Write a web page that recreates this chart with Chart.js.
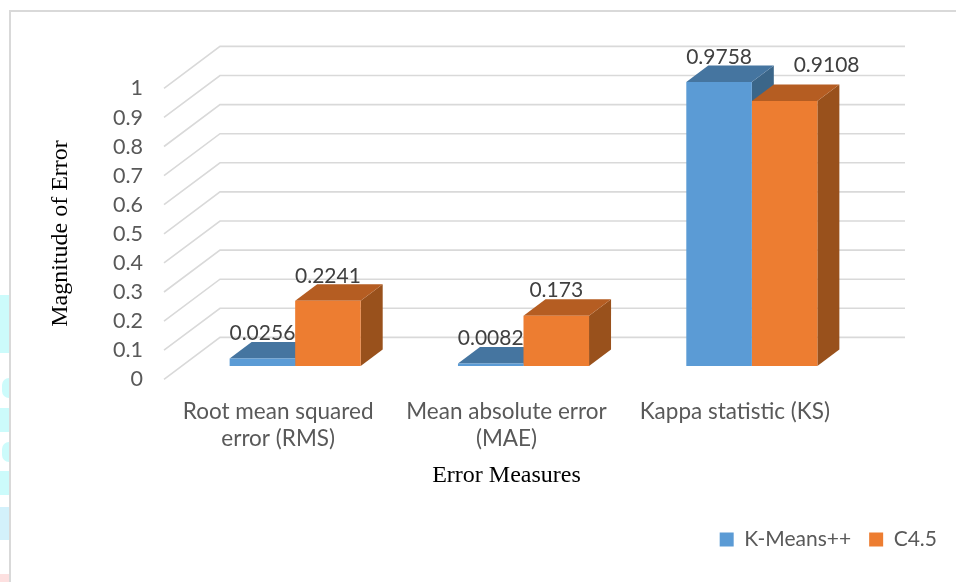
<!DOCTYPE html>
<html lang="en">
<head>
  <meta charset="UTF-8" />
  <title>Error Measures</title>
  <script src="https://cdn.jsdelivr.net/npm/chart.js"></script>
  <style>
    body {
      background-color: white;
      margin: 0;
      padding: 0;
      overflow: hidden;
    }

    .frame {
      position: absolute;
      left: 9px;
      top: 10px;
      right: 0;
      bottom: 0;
      border-left: 2px solid #d9d9d9;
      border-top: 2px solid #d9d9d9;
    }

    .blob {
      position: absolute;
      left: 0;
      width: 9px;
      background-color: #ccfbfb;
    }

    .blob.small {
      left: 2px;
      width: 7px;
      border-radius: 7px 0 0 7px;
    }

    canvas {
      position: absolute;
      left: 0;
      top: 0;
    }
  </style>
</head>
<body>

  <div class="blob" style="top:295px;height:58px"></div>
  <div class="blob small" style="top:378px;height:20px"></div>
  <div class="blob" style="top:408px;height:24px"></div>
  <div class="blob small" style="top:442px;height:20px"></div>
  <div class="blob" style="top:471px;height:24px"></div>
  <div class="blob" style="top:507px;height:33px;background-color:#d3f1fb"></div>
  <div class="blob" style="top:574px;height:8px;background-color:#fde0e0"></div>
  <div class="frame"></div>

  <canvas id="errorChart" width="956" height="582"></canvas>

  <script>
    const categories = [
      ['Root mean squared', 'error (RMS)'],
      ['Mean absolute error', '(MAE)'],
      'Kappa statistic (KS)'
    ];
    const kMeansValues = [0.0256, 0.0082, 0.9758];
    const c45Values = [0.2241, 0.173, 0.9108];
    const yTickLabels = ['0', '0.1', '0.2', '0.3', '0.4', '0.5', '0.6', '0.7', '0.8', '0.9', '1'];
    const yTitle = 'Magnitude of Error';
    const xTitle = 'Error Measures';

    // 3d look: the bars sit in the middle of the floor
    const barDepth = { x: 22, y: 16.5 };
    const wallBack = { x: 39, y: 28.6 };
    const wallFront = { x: 17, y: 13.3 };

    const sideColors = ['#3b6689', '#99511c'];
    const topColors = ['#4575a0', '#b55d22'];

    function poly(ctx, pts, color) {
      ctx.fillStyle = color;
      ctx.beginPath();
      pts.forEach((p, i) => i ? ctx.lineTo(p[0], p[1]) : ctx.moveTo(p[0], p[1]));
      ctx.closePath();
      ctx.fill();
    }

    const fake3d = {
      id: 'fake3d',
      beforeDatasetsDraw(chart) {
        const { ctx, chartArea, scales } = chart;
        ctx.save();

        // grid: floor edge going back, then along the back wall
        ctx.strokeStyle = '#d9d9d9';
        ctx.lineWidth = 1.6;
        scales.y.ticks.forEach(t => {
          const y = scales.y.getPixelForValue(t.value);
          ctx.beginPath();
          ctx.moveTo(chartArea.left - wallFront.x, y + wallFront.y);
          ctx.lineTo(chartArea.left + wallBack.x, y - wallBack.y);
          ctx.lineTo(chartArea.right + wallBack.x, y - wallBack.y);
          ctx.stroke();
        });

        // side and top faces, the front face is the normal bar
        chart.data.datasets.forEach((ds, d) => {
          chart.getDatasetMeta(d).data.forEach(bar => {
            const l = bar.x - bar.width / 2;
            const r = bar.x + bar.width / 2;
            poly(ctx, [[r, bar.y], [r + barDepth.x, bar.y - barDepth.y], [r + barDepth.x, bar.base - barDepth.y], [r, bar.base]], sideColors[d]);
            poly(ctx, [[l, bar.y], [l + barDepth.x, bar.y - barDepth.y], [r + barDepth.x, bar.y - barDepth.y], [r, bar.y]], topColors[d]);
          });
        });
        ctx.restore();
      },
      afterDatasetsDraw(chart) {
        const { ctx, chartArea } = chart;
        ctx.save();

        // value labels
        ctx.font = '21px Lato';
        ctx.fillStyle = '#404040';
        ctx.textAlign = 'center';
        ctx.textBaseline = 'middle';
        chart.data.datasets.forEach((ds, d) => {
          chart.getDatasetMeta(d).data.forEach((bar, i) => {
            // the last orange label was moved by hand in the original
            const moved = d === 1 && i === 2;
            ctx.fillText(String(ds.data[i]), bar.x + (moved ? 42 : 0), bar.y - (moved ? 35.5 : 25));
          });
        });

        // axis titles, centred on the floor and not on the bars
        ctx.font = '24px "Liberation Serif"';
        ctx.fillStyle = 'black';
        ctx.fillText(xTitle, (chartArea.left + chartArea.right) / 2 - 17, 476);
        ctx.translate(61, 233.5);
        ctx.rotate(-Math.PI / 2);
        ctx.fillText(yTitle, 0, 0);
        ctx.restore();
      }
    };

    Chart.defaults.font.family = 'Lato';

    new Chart(document.getElementById('errorChart').getContext('2d'), {
      type: 'bar',
      data: {
        labels: categories,
        datasets: [
          { label: 'K-Means++', data: kMeansValues, backgroundColor: '#5b9bd5' },
          { label: 'C4.5', data: c45Values, backgroundColor: '#ed7d31' }
        ]
      },
      options: {
        responsive: false,
        animation: false,
        layout: { padding: { left: 0, top: 75, right: 1, bottom: 22 } },
        datasets: { bar: { barPercentage: 1, categoryPercentage: 0.574 } },
        plugins: {
          tooltip: { enabled: false },
          legend: {
            position: 'bottom',
            align: 'end',
            labels: { color: '#595959', boxWidth: 14, boxHeight: 14, padding: 18, font: { size: 21 } }
          }
        },
        scales: {
          x: {
            grid: { display: false, drawTicks: false },
            border: { display: false },
            ticks: { color: '#595959', font: { size: 22.5 }, labelOffset: -17, padding: 32, maxRotation: 0, autoSkip: false },
            afterFit(scale) { scale.height = 145; }
          },
          y: {
            min: 0,
            max: 1,
            grid: { display: false, drawTicks: false },
            border: { display: false },
            ticks: {
              color: '#595959',
              font: { size: 21.5 },
              stepSize: 0.1,
              autoSkip: false,
              padding: 38,
              labelOffset: 13.5,
              callback: (v, i) => yTickLabels[i]
            },
            afterFit(scale) { scale.width = 181; }
          },
          // empty axis, only keeps the plot clear of the legend's right edge
          spare: {
            type: 'linear',
            position: 'right',
            grid: { display: false, drawTicks: false },
            border: { display: false },
            ticks: { display: false },
            afterFit(scale) { scale.width = 89; }
          }
        }
      },
      plugins: [fake3d]
    });
  </script>
</body>
</html>
